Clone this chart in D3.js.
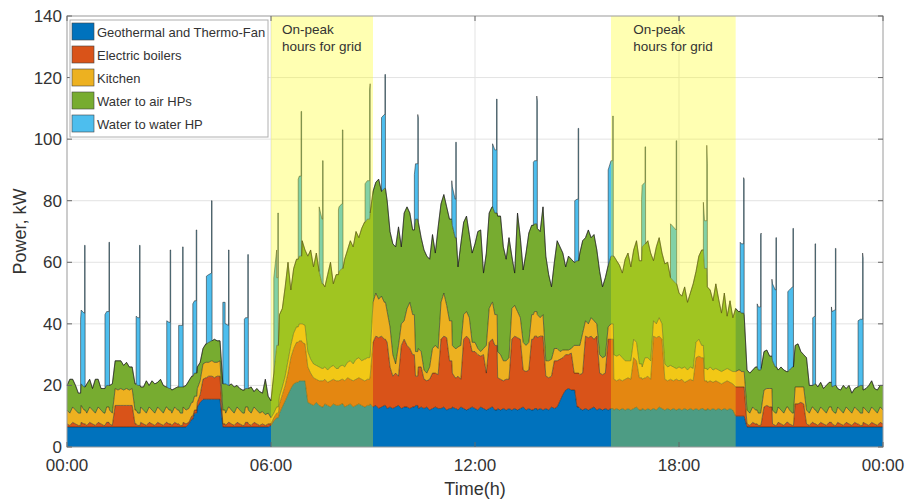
<!DOCTYPE html>
<html>
<head>
<meta charset="utf-8">
<script src="https://cdn.jsdelivr.net/npm/d3@7"></script>
<style>
  body { margin: 0; background: #fff; }
  svg text { font-family: "Liberation Sans", Arial, sans-serif; fill: #333; }
</style>
</head>
<body>
<svg id="chart" width="908" height="500"></svg>
<script>
// 5-minute samples from 00:00 to 24:00, one row per hour (kW)
const geothermal = [
  6.5,6.5,6.5,6.5,6.5,6.5,6.5,6.5,6.5,6.5,6.5,6.5,
  6.5,6.5,6.5,6.5,6.5,6.5,6.5,6.5,6.5,6.5,6.5,6.5,
  6.5,6.5,6.5,6.5,6.5,6.5,6.5,6.5,6.5,6.5,6.5,6.5,
  6.5,6.5,6.5,6.5,6.5,6.5,6.5,7.5,9,11,13,14.5,
  15.5,15.5,15.5,15.5,15.5,15.5,15.5,6.5,6.5,6.5,6.5,6.5,
  6.5,6.5,6.5,6.5,6.5,6.5,6.5,6.5,6.5,6.5,6.5,6.5,
  7,8.5,9.5,11,13,15,17,19,20.5,21,21.5,21.5,
  21.5,14.5,14,13.5,14.5,13.5,13,14,13.5,13,14,13.5,
  13.5,14,13,13.5,14,13,13.5,14,13.5,13,13.5,14,
  13,13.5,12.5,13,13.5,12.5,13,12.5,13,13.5,12.5,13,
  13,12.5,13,13.5,12.5,13,12.5,13,12,12.5,13,12.5,
  12.5,13,12,12.5,13,12.5,12,13,12.5,12,12.5,13,
  12.5,12,13,12.5,12,12.5,13,12,12.5,12,12.5,12,
  12.5,12,12.5,12,12.5,13,12,12.5,12,12.5,12,12.5,
  12,12.5,12,13,12.5,13,15,17,18.5,19,18.5,18.5,
  13,12.5,12,12.5,12,12.5,13,12,12.5,12,12.5,12,
  12.5,12,12.5,12,12.5,12,12.5,12,12.5,13,12,12.5,
  12,12.5,12,12.5,12,13,12.5,12,12.5,12,12.5,12,
  12.5,12,12.5,12,12.5,12,12.5,12,12.5,12,12.5,12,
  12.5,12,12.5,12,12.5,12,12.5,12,10,10,10,10,
  6.5,6.5,6.5,6.5,6.5,6.5,6.5,6.5,6.5,6.5,6.5,6.5,
  6.5,6.5,6.5,6.5,6.5,6.5,6.5,6.5,6.5,6.5,6.5,6.5,
  6.5,6.5,6.5,6.5,6.5,6.5,6.5,6.5,6.5,6.5,6.5,6.5,
  6.5,6.5,6.5,6.5,6.5,6.5,6.5,6.5,6.5,6.5,6.5,6.5,
  6.5
];

const boilers = [
  1,0.5,1.5,1,0.5,1.5,1,0.5,1.5,1,0.5,1.5,
  1,0.5,1.5,1,0.5,7,7,7,7,7,7,7,
  1,0.5,1.5,1,0.5,1.5,1,0.5,1.5,1,0.5,1.5,
  1,0.5,1.5,1,0.5,1.5,1,0.5,1,1,1.5,2.5,
  6.5,7,7.5,7.5,7,7.5,7.5,1,0.5,1.5,1,0.5,
  1.5,1,0.5,1.5,1,0.5,1.5,1,0.5,1,0.5,1,
  0.5,1,1.5,3,4,5,7,10,11.5,13,13,12.5,
  12,11.5,10,9,7.5,8,8.5,8,7.5,8.5,8,8,
  8,8,8.5,9,8,8.5,8.5,8.5,8.5,8.5,8.5,9,
  21,22.5,23,23,21.5,21.5,13,10.5,11,9.5,20.5,22,
  20,19.5,17,9.5,13.5,13,9.5,8.5,10,11.5,11,11,
  22.5,23,23.5,15.5,11,10,11,9,22.5,24,22.5,18,
  18.5,18,16.5,17.5,12,21.5,22,21,10,10,9,10,
  9.5,23,23.5,23.5,22.5,12,12.5,12.5,23,23.5,23.5,23.5,
  24,10.5,10.5,10,15.5,15,13.5,12,11.5,11,12,5.5,
  11,11,12,23.5,23.5,23.5,22,24,11.5,11.5,11.5,23,
  22.5,10,9,10,9,10,10,10,16.5,15,10.5,9.5,
  10.5,10.5,10,23.5,23.5,23,22.5,10,9,10,9,10,
  9,10,8.5,9.5,9.5,9.5,16.5,17.5,16.5,9.5,8.5,9.5,
  8.5,9.5,8.5,8.5,8.5,9.5,8.5,8.5,9.5,9.5,9.5,9.5,
  1,0.5,1.5,1,0.5,1,6.5,7,6.5,1,0.5,1.5,
  1,0.5,1.5,1,0.5,7.5,7.5,8,7.5,1,0.5,1.5,
  1,0.5,1.5,1,0.5,1.5,1,0.5,1.5,1,0.5,1.5,
  1,0.5,1.5,1,0.5,1.5,1,0.5,1.5,1,0.5,1.5,
  1
];

const kitchen = [
  4.5,4,5,4.5,4,5.5,4.5,4,5,4.5,4,5,
  4.5,4,5,4.5,4,5.5,5,5.5,5,5.5,5,5.5,
  4.5,4,5,4.5,4,5,4.5,4,5,4.5,4,5,
  4.5,4,5,4.5,4,5,4.5,4.5,4.5,4.5,4.5,4.5,
  5,5,4.5,5,5,4.5,5,4.5,4,5,4.5,4,
  5,4.5,4,5,4.5,4,5,4.5,4,4,3.5,3.5,
  2,1.5,2,2.5,2.5,3,4,4,5,5,5.5,6,
  6,5,4.5,4.5,4.5,4.5,4,4,4,4.5,4.5,4,
  4.5,4.5,4.5,5,6,5.5,6.5,6.5,6,7,7,6.5,
  13,14,12.5,13,12,10,13,7,3,10,7,6,
  12,15,13,8,6,5,3,2.5,4,8,9,8.5,
  12,14,10.5,13,9,9.5,9.5,11,8,8,7,3,
  3,2,1.5,2,9,11,12,10,8.5,8,6.5,6,
  7,10,10,8.5,7,9,8.5,9,8,8,7.5,6,
  7,5,5.5,5.5,4,4,2.5,2.5,1.5,1.5,1.5,9,
  9,9.5,13,5,4.5,6,6,4,6,5.5,5.5,4,
  5,8,8,8,7.5,6,5.5,6,6,6,4.5,4,
  6.5,6,6,5,4.5,6,5,5,4.5,4.5,4.5,3.5,
  4.5,3.5,5,3.5,4,4,5,5.5,4,4,4,4.5,
  4,4,4,4,4,4,4,4,5,5.5,5,5,
  4.5,4,5,4.5,4,4.5,5.5,5.5,6,4.5,4,5,
  4.5,4,5,4.5,4,5.5,5.5,5,5.5,4.5,4,5,
  4.5,4,5,4.5,4,5,4.5,4,5,4.5,4,5,
  4.5,4,5,4.5,4,5,4.5,4,5,4.5,4,5,
  4.5
];

const waterToAir = [
  8,11,9,8,6.5,7,7.5,9.5,9,7,11,9,
  7,8,7,8,9.5,9,9.5,9,8,8.5,7.5,7,
  8.5,9,6.5,7.5,10.5,7,9.5,9.5,8,10,9,6.5,
  7,7.5,6,7.5,8.5,6.5,8,9,8.5,7.5,7,6,
  5,6,6.5,6.5,7.5,7,6.5,8.5,9.5,7,8.5,8.5,
  7,7,7.5,6,7,8.5,5,7,7,6,11.5,5.5,
  5.5,13,20,26.5,25.5,29,32,18,21,22,22,27,
  24.5,31,35.5,31.5,36.5,31,27.5,26,31,34,26.5,30.5,
  31,31.5,35,36.5,39,38,41.5,39,43,44.5,45,46.5,
  36,36,39,34,37,36,31,36,38,38.5,25,35,
  33,29,27.5,43,41,37,39,38,35,37,30,39.5,
  32,32,32,33,39,36,26,33,30,31,27,29,
  32,38,39.5,24.5,30,31,31,33,44,45,37,33,
  39,17,10.5,32,26,23.5,30,35.5,29,28.5,28,28,
  35,34,28,23.5,28,35,34,31.5,27,30.5,29,27,
  27.5,30,30,27,30.5,26,28,24,27,23,25.5,20,
  22,32,31,29,27.5,33,35,30.5,29,33,33.5,39,
  37,38,35,19.5,25,26,23,32.5,34,28.5,28,27.5,
  24,23.5,26,22,24,27.5,23,27,31,32.5,27,25,
  22.5,27.5,23,19,25,17,22.5,17.5,20.5,19,19,18.5,
  13,13,12,14,14,13.5,12.5,12.5,10.5,16,15,12,
  14,14,11.5,13,15,13.5,14,11.5,10.5,17,9,7,
  8.5,8.5,8,7,9,8,7.5,9,6,6.5,9,6,
  8,6.5,6,7.5,9,5.5,7,9,8.5,7,7.5,7,
  8
];

// Water to water HP runs in short bursts: it switches to each value at the given time
const hpTimes = [
  "00:24","00:31","00:32", "01:07","01:14","01:15", "02:02","02:08","02:09",
  "02:56","03:02","03:03", "03:17","03:24","03:25", "03:42","03:48","03:49",
  "04:06","04:15","04:16", "04:35","04:39","04:45","04:46", "05:13","05:19","05:20",
  "06:05","06:10","06:12","06:13", "06:48","06:53","06:54", "07:25","07:31","07:32",
  "07:59","08:06","08:07", "08:46","08:54","08:55", "09:15","09:21","09:22",
  "10:13","10:19","10:20", "11:19","11:26","11:27", "12:31","12:38","12:39",
  "13:43","13:49","13:50", "14:56","15:02","15:03", "15:55","16:03","16:04",
  "16:54","17:00","17:01", "17:45","17:55","17:56", "18:43","18:49","18:50",
  "19:48","19:54","19:55", "20:18","20:24","20:25", "20:44","20:51","20:52",
  "21:12","21:21","21:22", "21:56","22:00","22:01", "22:29","22:36","22:37",
  "23:16","23:24","23:25"
];
const hpValues = [
  24,46,0, 24,46.5,0, 22,45.5,0,
  21.5,45,0, 20,45.5,0, 23.5,46.5,0,
  22,45.5,0, 26.5,19.5,44,0, 23,43.5,0,
  31,22,43,0, 26,47,0, 21,40,0,
  21,45,0, 12.5,42,0, 24,37,0,
  18,34,0, 12.5,31,0, 20.5,37,0,
  20.5,41.5,0, 20,43,0, 31,45.5,0,
  20,31.5,0, 17.5,46.5,0, 15.5,40,0,
  22.5,44,0, 20.5,44,0, 25,42,0,
  26,45,0, 22,45.5,0, 24.5,44.5,0,
  21.5,43,0
];

const seriesNames = ["Geothermal and Thermo-Fan", "Electric boilers", "Kitchen", "Water to air HPs", "Water to water HP"];
const seriesColors = ["#0072BD", "#D95319", "#EDB120", "#77AC30", "#4DBEEE"];
const peakWindows = [["06:00", "09:00"], ["16:00", "19:40"]];
const peakText = ["On-peak", "hours for grid"];
const yTicks = [0, 20, 40, 60, 80, 100, 120, 140];
const xTickTimes = ["00:00", "06:00", "12:00", "18:00", "24:00"];
const xTickLabels = ["00:00", "06:00", "12:00", "18:00", "00:00"];

function drawChart() {
    const svg = d3.select("#chart");
    const margin = { top: 16, right: 25, bottom: 53, left: 67 };
    const width = 908, height = 500;
    const toMin = s => +s.slice(0, 2) * 60 + +s.slice(3, 5);

    const x = d3.scaleLinear().domain([0, 1440]).range([margin.left, width - margin.right]);
    const y = d3.scaleLinear().domain([0, 140]).range([height - margin.bottom, margin.top]);

    // Rows: the 5-minute grid, plus a before/after pair at each HP switching time
    const hpMin = hpTimes.map(toMin);
    const keys = ["geo", "boil", "kit", "w2a", "w2w"];
    const makeRow = (t, hp, order) => {
        const i = Math.floor(t / 5);
        return { t: t, order: order, geo: geothermal[i], boil: boilers[i], kit: kitchen[i], w2a: waterToAir[i], w2w: hp };
    };
    const hpAt = t => {
        const k = d3.bisectRight(hpMin, t) - 1;
        return k >= 0 ? hpValues[k] : 0;
    };
    const switchSet = new Set(hpMin);
    const rows = geothermal.map((g, i) => i * 5)
        .filter(t => !switchSet.has(t))
        .map(t => makeRow(t, hpAt(t), 1));
    hpMin.forEach((t, k) => {
        rows.push(makeRow(t, k > 0 ? hpValues[k - 1] : 0, 0));
        rows.push(makeRow(t, hpValues[k], 1));
    });
    rows.sort((a, b) => a.t - b.t || a.order - b.order);
    const layers = d3.stack().keys(keys)(rows);

    // Grid lines
    svg.append("g").selectAll("line")
        .data(yTicks.slice(1, -1))
        .enter().append("line")
        .attr("x1", x(0)).attr("x2", x(1440))
        .attr("y1", d => y(d)).attr("y2", d => y(d))
        .style("stroke", "#e3e3e3");
    svg.append("g").selectAll("line")
        .data(xTickTimes.slice(1, -1))
        .enter().append("line")
        .attr("x1", d => x(toMin(d))).attr("x2", d => x(toMin(d)))
        .attr("y1", y(0)).attr("y2", y(140))
        .style("stroke", "#e3e3e3");

    // Stacked areas
    const area = d3.area()
        .x(d => x(d.data.t))
        .y0(d => y(d[0]))
        .y1(d => y(d[1]));
    const edge = d3.line()
        .x(d => x(d.data.t))
        .y(d => y(d[1]));

    svg.append("g").selectAll("path")
        .data(layers)
        .enter().append("path")
        .attr("d", area)
        .style("fill", (d, i) => seriesColors[i]);
    svg.append("g").selectAll("path")
        .data(layers)
        .enter().append("path")
        .attr("d", edge)
        .style("fill", "none")
        .style("stroke", "#1a1a1a")
        .style("stroke-width", 0.6)
        .style("stroke-opacity", 0.85);

    // On-peak shading, drawn over the data
    svg.append("g").selectAll("rect")
        .data(peakWindows)
        .enter().append("rect")
        .attr("x", d => x(toMin(d[0])))
        .attr("width", d => x(toMin(d[1])) - x(toMin(d[0])))
        .attr("y", y(140))
        .attr("height", y(0) - y(140))
        .style("fill", "#ffff00")
        .style("fill-opacity", 0.3);

    const notes = svg.append("g").selectAll("text")
        .data(peakWindows)
        .enter().append("text")
        .attr("x", d => (x(toMin(d[0])) + x(toMin(d[1]))) / 2 - 40)
        .attr("y", 34)
        .style("font-size", "13.5px");
    notes.selectAll("tspan")
        .data(peakText)
        .enter().append("tspan")
        .attr("x", function () { return d3.select(this.parentNode).attr("x"); })
        .attr("dy", (d, i) => i === 0 ? 0 : 17)
        .text(d => d);

    // Frame and inward ticks
    svg.append("rect")
        .attr("x", x(0)).attr("y", y(140))
        .attr("width", x(1440) - x(0)).attr("height", y(0) - y(140))
        .style("fill", "none")
        .style("stroke", "#9a9a9a");
    const tk = 5;
    const ticks = svg.append("g").style("stroke", "#666");
    yTicks.forEach(v => {
        ticks.append("line").attr("x1", x(0)).attr("x2", x(0) + tk).attr("y1", y(v)).attr("y2", y(v));
        ticks.append("line").attr("x1", x(1440)).attr("x2", x(1440) - tk).attr("y1", y(v)).attr("y2", y(v));
    });
    xTickTimes.forEach(t => {
        ticks.append("line").attr("x1", x(toMin(t))).attr("x2", x(toMin(t))).attr("y1", y(0)).attr("y2", y(0) - tk);
        ticks.append("line").attr("x1", x(toMin(t))).attr("x2", x(toMin(t))).attr("y1", y(140)).attr("y2", y(140) + tk);
    });

    // Tick labels
    svg.append("g").selectAll("text")
        .data(yTicks)
        .enter().append("text")
        .attr("x", x(0) - 5)
        .attr("y", d => y(d))
        .attr("dy", "0.35em")
        .attr("text-anchor", "end")
        .style("font-size", "17px")
        .text(d => d);
    svg.append("g").selectAll("text")
        .data(xTickTimes)
        .enter().append("text")
        .attr("x", d => x(toMin(d)))
        .attr("y", y(0) + 24)
        .attr("text-anchor", "middle")
        .style("font-size", "17px")
        .text((d, i) => xTickLabels[i]);

    // Axis titles
    svg.append("text")
        .attr("x", (x(0) + x(1440)) / 2)
        .attr("y", 495)
        .attr("text-anchor", "middle")
        .style("font-size", "18px")
        .text("Time(h)");
    svg.append("text")
        .attr("transform", `translate(26, ${(y(0) + y(140)) / 2}) rotate(-90)`)
        .attr("text-anchor", "middle")
        .style("font-size", "18px")
        .text("Power, kW");

    // Legend
    const lg = svg.append("g").attr("transform", "translate(70, 20)");
    lg.append("rect")
        .attr("width", 198).attr("height", 117)
        .style("fill", "#fff")
        .style("stroke", "#b0b0b0");
    const item = lg.selectAll(".legend")
        .data(seriesNames)
        .enter().append("g")
        .attr("class", "legend")
        .attr("transform", (d, i) => `translate(2, ${3 + i * 23})`);
    item.append("rect")
        .attr("width", 22).attr("height", 17)
        .style("fill", (d, i) => seriesColors[i])
        .style("stroke", "#444")
        .style("stroke-width", 0.6);
    item.append("text")
        .attr("x", 25)
        .attr("y", 14)
        .style("font-size", "13px")
        .text(d => d);
}

window.addEventListener("load", drawChart);
</script>
</body>
</html>
